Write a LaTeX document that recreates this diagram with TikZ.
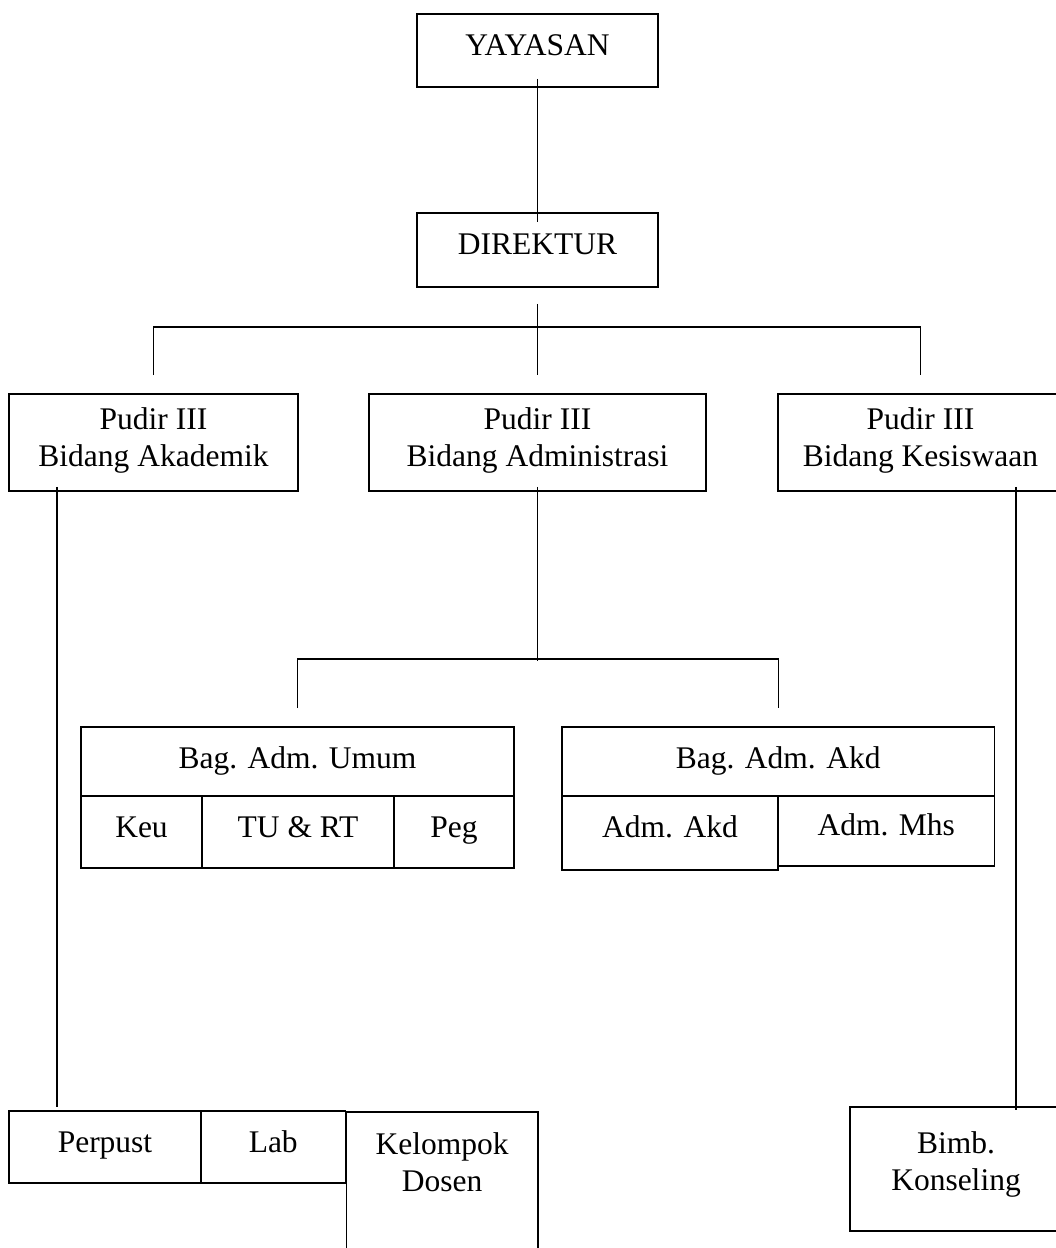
\documentclass[tikz,border=0pt]{standalone}
\usepackage{fontspec}
\setmainfont{Liberation Serif}
\begin{document}
\begin{tikzpicture}[x=1pt,y=-1pt,
  box/.style={draw, line width=1.8pt, inner sep=0pt},
  txt/.style={align=center, font=\fontsize{31.5}{37}\selectfont, inner sep=0pt},
  one/.style={txt, text height=22pt, text depth=7pt},
  conn/.style={line width=1.4pt}]
\useasboundingbox (0,0) rectangle (1056,1248);
\clip (0,0) rectangle (1056,1248);
% top
\node[box, minimum width=241pt, minimum height=73pt, label={[one,yshift=3pt]center:YAYASAN}] (yay) at (537.5,50.5) {};
\node[box, minimum width=241pt, minimum height=74pt, label={[one,yshift=3pt]center:DIREKTUR}] (dir) at (537.5,250) {};
% pudir
\node[box, minimum width=289pt, minimum height=97pt, label={[txt,yshift=2pt]center:Pudir III\\Bidang Akademik}] (pa) at (153.5,442.5) {};
\node[box, minimum width=337pt, minimum height=97pt, label={[txt,yshift=2pt]center:Pudir III\\Bidang Administrasi}] (pb) at (537.5,442.5) {};
\node[box, minimum width=285pt, minimum height=97pt, label={[txt,yshift=2pt]center:Pudir III\\Bidang Kesiswaan}] (pc) at (920.5,442.5) {};
% bag adm umum
\node[box, minimum width=433pt, minimum height=69pt, label={[one,yshift=1pt]center:Bag. Adm. Umum}] (um) at (297.5,761.5) {};
\node[box, minimum width=121pt, minimum height=72pt, label={[one,yshift=2pt]center:Keu}] (keu) at (141.5,832) {};
\node[box, minimum width=192pt, minimum height=72pt, label={[one,yshift=2pt]center:TU \& RT}] (tu) at (298,832) {};
\node[box, minimum width=120pt, minimum height=72pt, label={[one,yshift=2pt]center:Peg}] (peg) at (454,832) {};
% bag adm akd
\node[box, minimum width=432.5pt, minimum height=69pt, label={[one,yshift=1pt]center:Bag. Adm. Akd}] (ak) at (778.25,761.5) {};
\node[box, minimum width=216pt, minimum height=74pt, label={[one,yshift=3pt]center:Adm. Akd}] (aa) at (670,833) {};
\node[box, minimum width=216.5pt, minimum height=70pt, label={[one,yshift=3pt]center:Adm. Mhs}] (am) at (886.25,831) {};
% bottom left
\node[box, minimum width=192pt, minimum height=72pt, label={[one,yshift=2pt]center:Perpust}] (pp) at (105,1147) {};
\node[box, minimum width=144.5pt, minimum height=72pt, label={[one,yshift=2pt]center:Lab}] (lab) at (273.25,1147) {};
\node[box, minimum width=191.5pt, minimum height=160pt, anchor=north west, label={[txt,yshift=30pt]center:Kelompok\\Dosen}] (kd) at (345.5,1111) {};
% bottom right
\node[box, minimum width=212pt, minimum height=124pt, label={[txt,yshift=5pt]center:Bimb.\\Konseling}] (bk) at (956,1169) {};
% connectors
\draw[conn] ([yshift=9pt]yay.south) -- ([yshift=-10pt]dir.north);
\draw[conn] ([yshift=-16pt]dir.south) -- ([yshift=18pt]pb.north);
\draw[conn] ([yshift=18pt]pa.north) -- ++(0,-48) -| ([yshift=18pt]pc.north);
\draw[conn] ([xshift=49pt,yshift=5pt]pa.south west) -- ([xshift=49pt,yshift=3pt]pp.north west);
\draw[conn] ([xshift=239pt,yshift=5pt]pc.south west) -- ([xshift=167pt,yshift=-4pt]bk.north west);
\draw[conn] ([yshift=5pt]pb.south) -- ++(0,174);
\draw[conn] ([yshift=18pt]um.north) -- ++(0,-49) -| ([yshift=18pt]ak.north);
\end{tikzpicture}
\end{document}
